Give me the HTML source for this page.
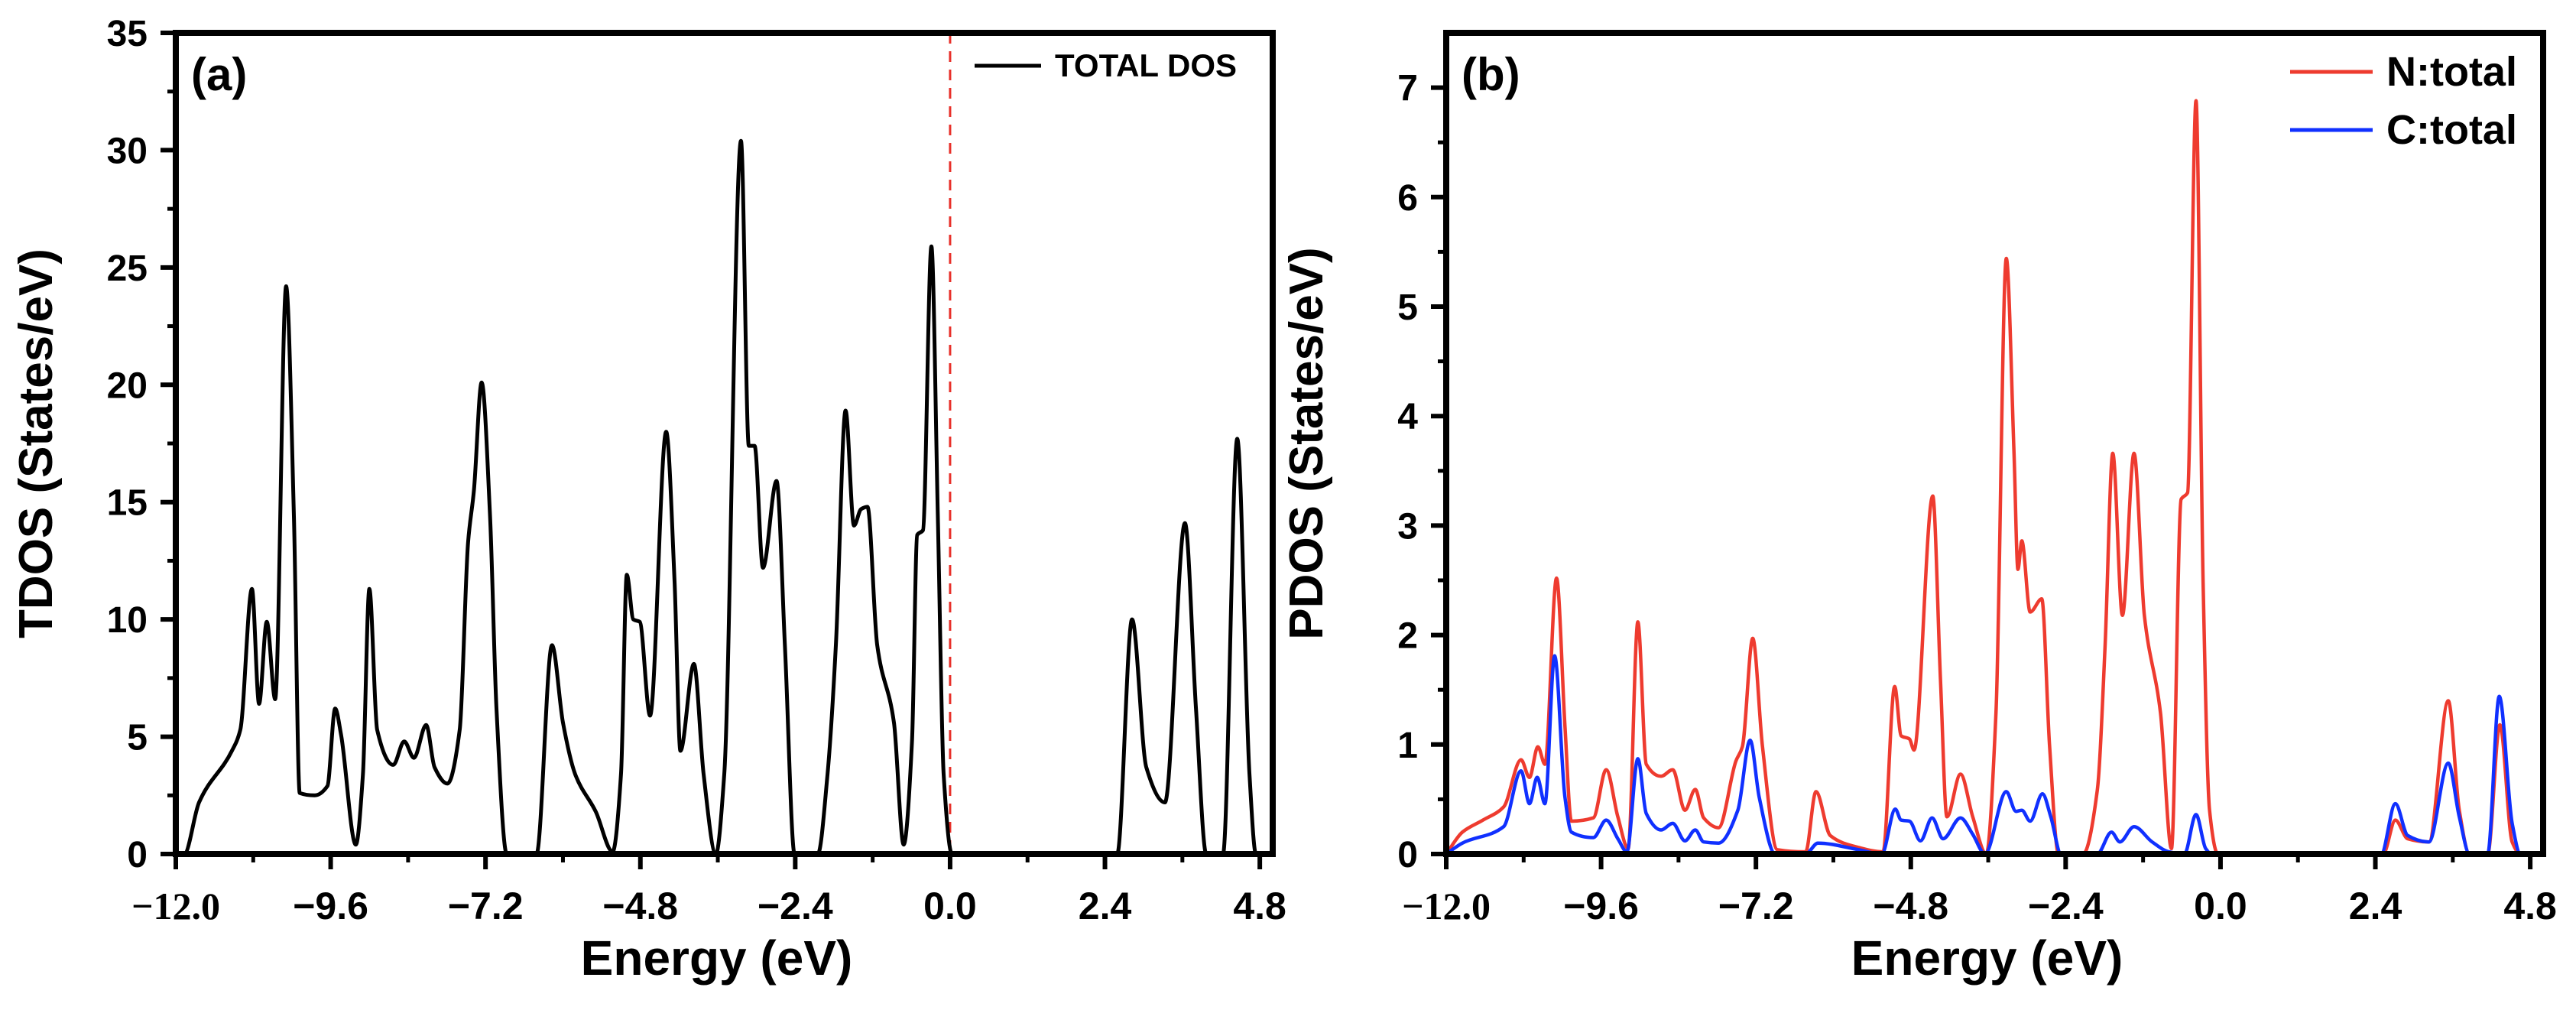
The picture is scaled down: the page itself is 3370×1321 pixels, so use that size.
<!DOCTYPE html>
<html><head><meta charset="utf-8"><style>
html,body{margin:0;padding:0;background:#fff;}
svg{display:block;}
text{font-family:"Liberation Sans",sans-serif;font-weight:bold;fill:#000;}
</style></head><body>
<svg id="fig" width="3370" height="1321" viewBox="0 0 3370 1321" xmlns="http://www.w3.org/2000/svg"></svg>
<script>
const tdosE=[-12,-11.87,-11.64,-11.13,-11.0,-10.82,-10.71,-10.59,-10.46,-10.29,-10.17,-10.08,-9.85,-9.65,-9.53,-9.44,-9.21,-9.1,-9.0,-8.88,-8.63,-8.46,-8.31,-8.12,-7.99,-7.79,-7.6,-7.47,-7.38,-7.26,-7.13,-7.03,-6.87,-6.41,-6.17,-6.0,-5.81,-5.49,-5.23,-5.1,-5.01,-4.91,-4.81,-4.65,-4.4,-4.27,-4.18,-3.97,-3.82,-3.63,-3.5,-3.24,-3.12,-3.03,-2.9,-2.69,-2.56,-2.41,-2.05,-1.9,-1.77,-1.62,-1.49,-1.38,-1.28,-1.13,-0.87,-0.72,-0.59,-0.51,-0.42,-0.29,-0.19,-0.1,0.03,2.59,2.82,3.04,3.33,3.64,3.81,3.97,4.23,4.45,4.64,4.74,5.0];
const tdosV=[0,0,2.2,4.4,5.3,11.3,6.4,9.9,6.6,24.2,14.4,2.6,2.5,2.9,6.2,5.1,0.4,3.4,11.3,5.3,3.8,4.8,4.1,5.5,3.7,3.0,5.3,13.3,15.5,20.1,14.4,6.2,0,0,8.9,5.6,3.4,1.8,0.1,3.4,11.9,10,9.9,5.9,18,11.6,4.4,8.1,3.4,0,3.4,30.4,17.4,17.4,12.2,15.9,8.9,0,0,3.4,8.9,18.9,14,14.7,14.8,8.9,5.6,0.4,4.8,13.6,13.8,25.9,14.4,3.4,0,0,10,3.7,2.2,14.1,6.2,0,0,17.7,3.4,0,0];
const nE=[-12,-11.75,-11.43,-11.11,-10.84,-10.71,-10.58,-10.47,-10.29,-10.16,-10.06,-9.72,-9.52,-9.34,-9.18,-9.03,-8.9,-8.67,-8.49,-8.3,-8.14,-8.01,-7.78,-7.51,-7.41,-7.25,-7.1,-6.87,-6.43,-6.27,-6.05,-5.61,-5.23,-5.05,-4.95,-4.82,-4.75,-4.46,-4.34,-4.24,-4.03,-3.84,-3.63,-3.48,-3.32,-3.2,-3.14,-3.08,-2.95,-2.77,-2.65,-2.51,-2.13,-1.91,-1.79,-1.67,-1.52,-1.34,-1.18,-0.93,-0.76,-0.61,-0.51,-0.38,-0.27,-0.17,-0.04,2.52,2.71,2.9,3.23,3.53,3.7,3.86,4.14,4.33,4.52,4.65,5.0];
const nV=[0,0.2,0.31,0.43,0.86,0.70,0.98,0.82,2.52,1.17,0.30,0.33,0.77,0.34,0.05,2.12,0.82,0.71,0.77,0.40,0.59,0.33,0.24,0.85,0.98,1.97,0.99,0.04,0.02,0.57,0.17,0.06,0.02,1.53,1.08,1.05,0.95,3.27,1.59,0.34,0.73,0.34,0,1.29,5.44,3.66,2.6,2.86,2.21,2.33,0.99,0,0,0.58,1.88,3.66,2.18,3.66,2.18,1.29,0.05,3.24,3.3,6.88,2.47,0.4,0,0,0.31,0.14,0.11,1.4,0.4,0,0,1.18,0.11,0,0];
const cE=[-12,-11.75,-11.11,-10.84,-10.71,-10.59,-10.47,-10.32,-10.16,-10.06,-9.72,-9.52,-9.34,-9.2,-9.03,-8.9,-8.67,-8.49,-8.3,-8.14,-8.01,-7.78,-7.48,-7.29,-7.15,-6.9,-6.43,-6.24,-5.61,-5.25,-5.04,-4.95,-4.82,-4.65,-4.47,-4.3,-4.03,-3.84,-3.65,-3.32,-3.17,-3.08,-2.95,-2.76,-2.63,-2.47,-1.91,-1.69,-1.56,-1.34,-1.06,-0.8,-0.56,-0.38,-0.23,-0.14,2.49,2.71,2.9,3.23,3.53,3.7,3.86,4.14,4.32,4.52,4.65,5.0];
const cV=[0,0.1,0.25,0.76,0.46,0.7,0.46,1.81,0.52,0.2,0.15,0.31,0.14,0.02,0.87,0.37,0.22,0.28,0.12,0.22,0.11,0.1,0.4,1.04,0.52,0,0,0.1,0.04,0,0.41,0.31,0.3,0.12,0.33,0.14,0.33,0.18,0,0.57,0.39,0.4,0.3,0.55,0.34,0,0,0.2,0.11,0.25,0.11,0.02,0,0.36,0.05,0,0,0.46,0.17,0.11,0.83,0.34,0,0,1.44,0.28,0,0];
const xTicks=[-12.0,-9.6,-7.2,-4.8,-2.4,0.0,2.4,4.8];
const xTickLabels=["\u221212.0","\u22129.6","\u22127.2","\u22124.8","\u22122.4","0.0","2.4","4.8"];
const yTicksA=[0,5,10,15,20,25,30,35];
const yTicksB=[0,1,2,3,4,5,6,7];

const NS="http://www.w3.org/2000/svg";
const svg=document.getElementById('fig');
function mk(tag,attrs,parent,txt){const e=document.createElementNS(NS,tag);for(const k in attrs)e.setAttribute(k,attrs[k]);if(txt!==undefined)e.textContent=txt;(parent||svg).appendChild(e);return e;}
const TOP=43,BOT=1117,W=1435,XMIN=-12,XMAX=5.0;

function panel(left,yMax,yTicks,yMinorStep,ylabel,letter,prefix){
  const g=mk('g',{});
  
  
  const sx=e=>left+(e-XMIN)/(XMAX-XMIN)*W;
  const sy=v=>BOT-v/yMax*(BOT-TOP);
  for(let i=0;i<xTicks.length;i++){
    const x=sx(xTicks[i]);
    const t=mk('line',{x1:x,x2:x,y1:BOT,y2:BOT+20,stroke:'#000','stroke-width':6},g);
    
    
    if(i<xTicks.length-1){const xm=sx(xTicks[i]+1.2);mk('line',{x1:xm,x2:xm,y1:BOT,y2:BOT+11,stroke:'#000','stroke-width':5},g);}
    const lb=mk('text',{x:x,y:1202,'text-anchor':'middle','font-size':50,style:i===0?'font-family:"Liberation Serif",serif':''},g,xTickLabels[i]);
    
    
  }
  for(const v of yTicks){
    const y=sy(v);
    const t=mk('line',{x1:left-20,x2:left,y1:y,y2:y,stroke:'#000','stroke-width':6},g);
    
    
    const lb=mk('text',{x:left-37,y:y+17,'text-anchor':'end','font-size':48},g,String(v));
    
    
    const ym=sy(v+yMinorStep);
    if(v+yMinorStep<yMax)mk('line',{x1:left-11,x2:left,y1:ym,y2:ym,stroke:'#000','stroke-width':5},g);
  }
  const yl=mk('text',{x:0,y:0,'text-anchor':'middle','font-size':62,transform:`translate(${left-162},${(TOP+BOT)/2}) rotate(-90)`},g,ylabel);
  
  
  const xl=mk('text',{x:left+W/2-10,y:1275,'text-anchor':'middle','font-size':64},g,'Energy (eV)');
  
  
  const pl=mk('text',{x:left+20,y:118,'font-size':60},g,letter);
  
  
  return {g,sx,sy};
}
function monotonePath(px,py){
  const n=px.length,d=[],m=new Array(n);
  for(let i=0;i<n-1;i++)d.push((py[i+1]-py[i])/(px[i+1]-px[i]));
  m[0]=d[0];m[n-1]=d[n-2];
  for(let i=1;i<n-1;i++){
    if(d[i-1]*d[i]<=0)m[i]=0;
    else{const h0=px[i]-px[i-1],h1=px[i+1]-px[i];const w1=2*h1+h0,w2=h1+2*h0;m[i]=(w1+w2)/(w1/d[i-1]+w2/d[i]);}
  }
  let s='M'+px[0].toFixed(1)+','+py[0].toFixed(1);
  for(let i=0;i<n-1;i++){
    const h=(px[i+1]-px[i])/3;
    s+='C'+(px[i]+h).toFixed(1)+','+(py[i]+m[i]*h).toFixed(1)+' '+(px[i+1]-h).toFixed(1)+','+(py[i+1]-m[i+1]*h).toFixed(1)+' '+px[i+1].toFixed(1)+','+py[i+1].toFixed(1);
  }
  return s;
}
function series(p,E,V,color,w,name){
  const d=monotonePath(E.map(p.sx),V.map(p.sy));
  const path=mk('path',{d:d,fill:'none',stroke:color,'stroke-width':w,'stroke-linejoin':'round','stroke-linecap':'round'},p.g);
  
  
}
function frame(p,left){
  const r=mk('rect',{x:left,y:TOP,width:W,height:BOT-TOP,fill:'none',stroke:'#000','stroke-width':8},p.g);
  
  
}

const A=panel(230,35,yTicksA,2.5,'TDOS  (States/eV)','(a)','tdos');
const fl=mk('line',{x1:A.sx(0),x2:A.sx(0),y1:TOP,y2:BOT,stroke:'#e8302a','stroke-width':3,'stroke-dasharray':'14,10'},A.g);


series(A,tdosE,tdosV,'#000',5,'total-dos-line');
frame(A,230);
const la=mk('g',{},A.g);


mk('line',{x1:1275,x2:1362,y1:86,y2:86,stroke:'#000','stroke-width':5},la);
mk('text',{x:1380,y:100,'font-size':42},la,'TOTAL DOS');

const B=panel(1892,7.5,yTicksB,0.5,'PDOS  (States/eV)','(b)','pdos');
series(B,nE,nV,'#ee3b2f',4.5,'n-total-line');
series(B,cE,cV,'#1030ff',4.5,'c-total-line');
frame(B,1892);
const l1=mk('g',{},B.g);


mk('line',{x1:2996,x2:3104,y1:94,y2:94,stroke:'#ee3b2f','stroke-width':5},l1);
mk('text',{x:3122,y:112,'font-size':54},l1,'N:total');
const l2=mk('g',{},B.g);


mk('line',{x1:2996,x2:3104,y1:170,y2:170,stroke:'#1030ff','stroke-width':5},l2);
mk('text',{x:3122,y:188,'font-size':54},l2,'C:total');
</script>
</body></html>
